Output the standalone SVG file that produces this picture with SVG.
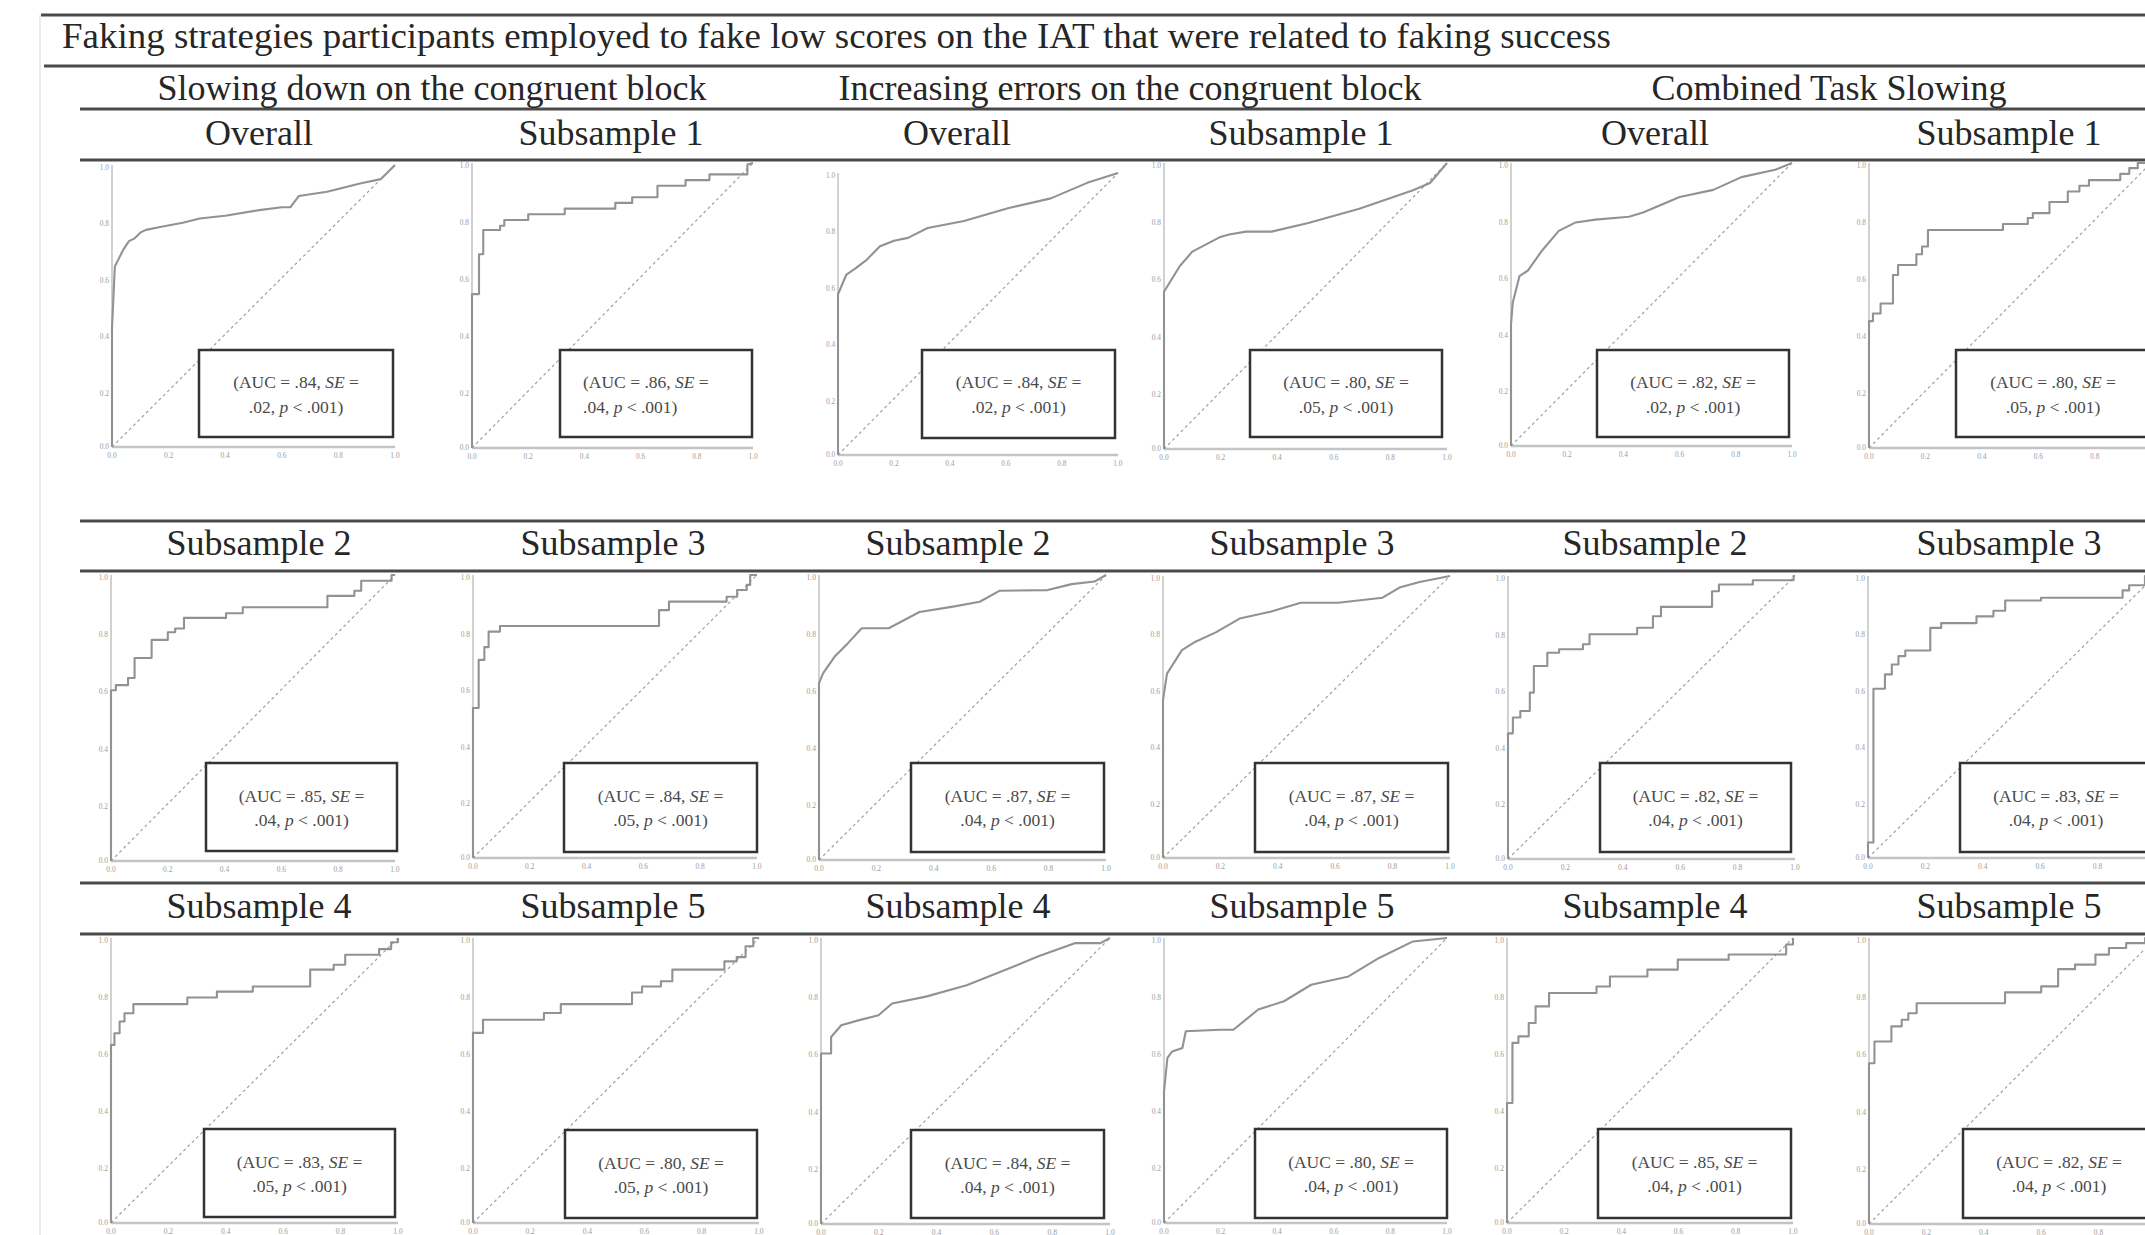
<svg xmlns="http://www.w3.org/2000/svg" xmlns:xlink="http://www.w3.org/1999/xlink" width="2145" height="1235" viewBox="0 0 2145 1235">
<style>
.hd{font-family:"Liberation Serif","Times New Roman",serif;font-size:36px;fill:#262626;text-anchor:middle}
.ttl{font-family:"Liberation Serif","Times New Roman",serif;font-size:36px;fill:#262626}
.rule{stroke:#4a4a4a;stroke-width:3}
.ax{stroke:#b8b8b8;stroke-width:1.3;fill:none}
.xax{stroke:#c4c4c4;stroke-width:2.4;fill:none}
.diag{stroke:#a0a0a0;stroke-width:1.2;stroke-dasharray:3 3;fill:none}
.roc{fill:none;stroke:#929292;stroke-width:2.1;vector-effect:non-scaling-stroke;stroke-linejoin:round}
.box{fill:#fff;stroke:#333;stroke-width:2.5}
.bt{font-family:"Liberation Serif","Times New Roman",serif;font-size:17.5px;fill:#4a4a4a;text-anchor:middle}
.bl{text-anchor:start}
.it{font-style:italic}
.tk{font-family:"Liberation Serif","Times New Roman",serif;font-size:7.5px;fill:#9c9c9c}
.tky{text-anchor:end}
.tkx{text-anchor:middle}
</style>
<defs>
<g id="tk">
<text class="tk tky" x="-3" y="5">1.0</text>
<text class="tk tky" x="-3" y="62">0.8</text>
<text class="tk tky" x="-3" y="119">0.6</text>
<text class="tk tky" x="-3" y="176">0.4</text>
<text class="tk tky" x="-3" y="233">0.2</text>
<text class="tk tky" x="-3" y="287">0.0</text>
<text class="tk tkx" x="0" y="296">0.0</text>
<text class="tk tkx" x="57" y="296">0.2</text>
<text class="tk tkx" x="114" y="296">0.4</text>
<text class="tk tkx" x="171" y="296">0.6</text>
<text class="tk tkx" x="228" y="296">0.8</text>
<text class="tk tkx" x="285" y="296">1.0</text>
</g>
</defs>
<rect width="2145" height="1235" fill="#fff"/>
<line x1="40" y1="15" x2="40" y2="1235" stroke="#e6e6e6" stroke-width="1.5"/>

<g id="table-rules">
<line class="rule" x1="41" y1="15" x2="2145" y2="15"/>
<line class="rule" x1="44" y1="66" x2="2145" y2="66"/>
<line class="rule" x1="80" y1="109" x2="2145" y2="109"/>
<line class="rule" x1="80" y1="160" x2="2145" y2="160"/>
<line class="rule" x1="80" y1="521" x2="2145" y2="521"/>
<line class="rule" x1="80" y1="571" x2="2145" y2="571"/>
<line class="rule" x1="80" y1="883" x2="2145" y2="883"/>
<line class="rule" x1="80" y1="934" x2="2145" y2="934"/>
</g>

<g id="headings">
<text class="ttl" x="62" y="48" textLength="1549" lengthAdjust="spacingAndGlyphs">Faking strategies participants employed to fake low scores on the IAT that were related to faking success</text>
<text class="hd" x="432" y="100">Slowing down on the congruent block</text>
<text class="hd" x="1130" y="100">Increasing errors on the congruent block</text>
<text class="hd" x="1829" y="100">Combined Task Slowing</text>
<text class="hd" x="259" y="145">Overall</text>
<text class="hd" x="611" y="145">Subsample 1</text>
<text class="hd" x="957" y="145">Overall</text>
<text class="hd" x="1301" y="145">Subsample 1</text>
<text class="hd" x="1655" y="145">Overall</text>
<text class="hd" x="2009" y="145">Subsample 1</text>
<text class="hd" x="259" y="555">Subsample 2</text>
<text class="hd" x="613" y="555">Subsample 3</text>
<text class="hd" x="958" y="555">Subsample 2</text>
<text class="hd" x="1302" y="555">Subsample 3</text>
<text class="hd" x="1655" y="555">Subsample 2</text>
<text class="hd" x="2009" y="555">Subsample 3</text>
<text class="hd" x="259" y="918">Subsample 4</text>
<text class="hd" x="613" y="918">Subsample 5</text>
<text class="hd" x="958" y="918">Subsample 4</text>
<text class="hd" x="1302" y="918">Subsample 5</text>
<text class="hd" x="1655" y="918">Subsample 4</text>
<text class="hd" x="2009" y="918">Subsample 5</text>
</g>

<!-- Row 1 -->
<g id="plot-slow-overall" transform="translate(112,165)">
<use href="#tk" transform="scale(0.993,0.99)"/>
<line class="ax" x1="0" y1="0" x2="0" y2="282"/><line class="xax" x1="0" y1="282" x2="283" y2="282"/>
<line class="diag" x1="0" y1="282" x2="283" y2="0"/>
<path class="roc" transform="scale(2.83,2.82)" d="M0,100 V58 L1,36 L2,34 L4,30 L6,27 L8,26 L10,24 L12,23 L17,22 L25,20.5 L31,19 L40,18 L52,16 L60,15 L63,15 L66,11 L76,9.5 L88,6.5 L95,5 L97,3 L100,0"/>
<rect class="box" x="87" y="185" width="194" height="87"/>
<text class="bt" x="184" y="223">(AUC = .84, <tspan class="it">SE</tspan> =</text>
<text class="bt" x="184" y="248">.02, <tspan class="it">p</tspan> &lt; .001)</text>
</g>
<g id="plot-slow-sub1" transform="translate(472,163)">
<use href="#tk" transform="scale(0.986,1)"/>
<line class="ax" x1="0" y1="0" x2="0" y2="285"/><line class="xax" x1="0" y1="285" x2="281" y2="285"/>
<line class="diag" x1="0" y1="285" x2="281" y2="0"/>
<path class="roc" transform="scale(2.81,2.85)" d="M0,100 V46 H2.5 V32 H4 V23.5 H10 V22 H11.5 V20 H20 V18 H33 V16 H51 V14 H57 V12 H66 V8 H76 V6 H84.5 V4 H98 V0.5 L100,0"/>
<rect class="box" x="88" y="187" width="192" height="87"/>
<text class="bt bl" x="111" y="225">(AUC = .86, <tspan class="it">SE</tspan> =</text>
<text class="bt bl" x="111" y="250">.04, <tspan class="it">p</tspan> &lt; .001)</text>
</g>
<g id="plot-err-overall" transform="translate(838,173)">
<use href="#tk" transform="scale(0.982,0.99)"/>
<line class="ax" x1="0" y1="0" x2="0" y2="282"/><line class="xax" x1="0" y1="282" x2="280" y2="282"/>
<line class="diag" x1="0" y1="282" x2="280" y2="0"/>
<path class="roc" transform="scale(2.80,2.82)" d="M0,100 V43 L3,36 L6,34 L10,31 L15,26 L20,24 L25,23 L32,19.5 L45,17 L61,12.4 L76,9 L89,3.5 L100,0"/>
<rect class="box" x="84" y="177" width="193" height="88"/>
<text class="bt" x="180.5" y="215">(AUC = .84, <tspan class="it">SE</tspan> =</text>
<text class="bt" x="180.5" y="240">.02, <tspan class="it">p</tspan> &lt; .001)</text>
</g>
<g id="plot-err-sub1" transform="translate(1164,163)">
<use href="#tk" transform="scale(0.993,1.003)"/>
<line class="ax" x1="0" y1="0" x2="0" y2="286"/><line class="xax" x1="0" y1="286" x2="283" y2="286"/>
<line class="diag" x1="0" y1="286" x2="283" y2="0"/>
<path class="roc" transform="scale(2.83,2.86)" d="M0,100 V45 L2.5,41 L5.6,36 L10,31 L19.6,26 L23,25 L29,24 L38,24 L51,21 L69,16 L88,9.5 L94,7 L100,0"/>
<rect class="box" x="86" y="187" width="192" height="87"/>
<text class="bt" x="182" y="225">(AUC = .80, <tspan class="it">SE</tspan> =</text>
<text class="bt" x="182" y="250">.05, <tspan class="it">p</tspan> &lt; .001)</text>
</g>
<g id="plot-comb-overall" transform="translate(1511,163)">
<use href="#tk" transform="scale(0.986,0.993)"/>
<line class="ax" x1="0" y1="0" x2="0" y2="283"/><line class="xax" x1="0" y1="283" x2="281" y2="283"/>
<line class="diag" x1="0" y1="283" x2="281" y2="0"/>
<path class="roc" transform="scale(2.81,2.83)" d="M0,100 V57 L0.6,49.5 L3,40 L6,38 L11,31 L17,24 L23,21 L30,20 L42,19 L47,17.5 L60,12 L72,9.5 L82,5 L94,2.4 L100,0"/>
<rect class="box" x="86" y="187" width="192" height="87"/>
<text class="bt" x="182" y="225">(AUC = .82, <tspan class="it">SE</tspan> =</text>
<text class="bt" x="182" y="250">.02, <tspan class="it">p</tspan> &lt; .001)</text>
</g>
<g id="plot-comb-sub1" transform="translate(1869,163)">
<use href="#tk" transform="scale(0.99,1)"/>
<line class="ax" x1="0" y1="0" x2="0" y2="285"/><line class="xax" x1="0" y1="285" x2="282" y2="285"/>
<line class="diag" x1="0" y1="285" x2="282" y2="0"/>
<path class="roc" transform="scale(2.82,2.85)" d="M0,100 V55.5 H1.4 V52.8 H4.1 V49.3 H8.5 V39.3 H10.3 V35.8 H16.8 V32 H18.8 V29.3 H20.9 V23.5 H47.5 V21.4 H56.3 V19.3 H58.1 V17.6 H64 V13.7 H70.5 V10 H74.6 V8 H78 V6 H89.1 V3.8 H92.3 V1.8 H95.3 V0 H100"/>
<rect class="box" x="87" y="187" width="194" height="87"/>
<text class="bt" x="184" y="225">(AUC = .80, <tspan class="it">SE</tspan> =</text>
<text class="bt" x="184" y="250">.05, <tspan class="it">p</tspan> &lt; .001)</text>
</g>

<!-- Row 2 -->
<g id="plot-slow-sub2" transform="translate(111,575)">
<use href="#tk" transform="scale(0.996,1.003)"/>
<line class="ax" x1="0" y1="0" x2="0" y2="286"/><line class="xax" x1="0" y1="286" x2="284" y2="286"/>
<line class="diag" x1="0" y1="286" x2="284" y2="0"/>
<path class="roc" transform="scale(2.84,2.86)" d="M0,100 V40.3 H1.7 V38.5 H6 V36 H8.3 V29 H14.3 V22.7 H20 V20 H22.6 V18.7 H25.7 V15 H40.5 V13.4 H46.4 V11.3 H76.2 V7.3 H85.7 V5.5 H88.1 V2 H98.8 V0 H100"/>
<rect class="box" x="95" y="188" width="191" height="88"/>
<text class="bt" x="190.5" y="227">(AUC = .85, <tspan class="it">SE</tspan> =</text>
<text class="bt" x="190.5" y="251">.04, <tspan class="it">p</tspan> &lt; .001)</text>
</g>
<g id="plot-slow-sub3" transform="translate(473,575)">
<use href="#tk" transform="scale(0.996,0.993)"/>
<line class="ax" x1="0" y1="0" x2="0" y2="283"/><line class="xax" x1="0" y1="283" x2="284" y2="283"/>
<line class="diag" x1="0" y1="283" x2="284" y2="0"/>
<path class="roc" transform="scale(2.84,2.83)" d="M0,100 V47 H2 V30 H4 V25.5 H5.5 V20 H9.5 V18 H65.5 V12.4 H69 V9.4 H89.3 V7.7 H93 V5.3 H96.4 V3.5 H97.6 V0 H100"/>
<rect class="box" x="91" y="188" width="193" height="89"/>
<text class="bt" x="187.5" y="227">(AUC = .84, <tspan class="it">SE</tspan> =</text>
<text class="bt" x="187.5" y="251">.05, <tspan class="it">p</tspan> &lt; .001)</text>
</g>
<g id="plot-err-sub2" transform="translate(819,575)">
<use href="#tk" transform="scale(1.007,1)"/>
<line class="ax" x1="0" y1="0" x2="0" y2="285"/><line class="xax" x1="0" y1="285" x2="287" y2="285"/>
<line class="diag" x1="0" y1="285" x2="287" y2="0"/>
<path class="roc" transform="scale(2.87,2.85)" d="M0,100 V38 L1.4,34.5 L5.4,28.7 L10,24 L14.9,18.7 L24.3,18.7 L35,13 L46.7,11.1 L56,9.4 L63,5.5 L79.7,5.3 L88,3.2 L96,2.3 L100,0"/>
<rect class="box" x="92" y="188" width="193" height="89"/>
<text class="bt" x="188.5" y="227">(AUC = .87, <tspan class="it">SE</tspan> =</text>
<text class="bt" x="188.5" y="251">.04, <tspan class="it">p</tspan> &lt; .001)</text>
</g>
<g id="plot-err-sub3" transform="translate(1163,576)">
<use href="#tk" transform="scale(1.007,0.99)"/>
<line class="ax" x1="0" y1="0" x2="0" y2="282"/><line class="xax" x1="0" y1="282" x2="287" y2="282"/>
<line class="diag" x1="0" y1="282" x2="287" y2="0"/>
<path class="roc" transform="scale(2.87,2.82)" d="M0,100 V44 L1.4,34.6 L6.6,26.3 L11.3,23.3 L18.4,20 L26.7,15.1 L37.4,12.7 L48,9.5 L61,9.5 L76.5,7.7 L82.4,4.1 L89.4,2.1 L100,0"/>
<rect class="box" x="92" y="187" width="193" height="89"/>
<text class="bt" x="188.5" y="226">(AUC = .87, <tspan class="it">SE</tspan> =</text>
<text class="bt" x="188.5" y="250">.04, <tspan class="it">p</tspan> &lt; .001)</text>
</g>
<g id="plot-comb-sub2" transform="translate(1508,576)">
<use href="#tk" transform="scale(1.007,0.993)"/>
<line class="ax" x1="0" y1="0" x2="0" y2="283"/><line class="xax" x1="0" y1="283" x2="287" y2="283"/>
<line class="diag" x1="0" y1="283" x2="287" y2="0"/>
<path class="roc" transform="scale(2.87,2.83)" d="M0,100 V55.6 H1.7 V50 H4.3 V47.7 H7.6 V41.2 H9 V31.8 H13.7 V27.1 H17.8 V25.9 H26.1 V24.1 H28.4 V20.6 H45 V18.3 H50.5 V14.2 H53.3 V10.9 H71.1 V5.4 H73.5 V3 H85.3 V1.5 H99.5 V0 H100"/>
<rect class="box" x="92" y="187" width="191" height="89"/>
<text class="bt" x="187.5" y="226">(AUC = .82, <tspan class="it">SE</tspan> =</text>
<text class="bt" x="187.5" y="250">.04, <tspan class="it">p</tspan> &lt; .001)</text>
</g>
<g id="plot-comb-sub3" transform="translate(1868,576)">
<use href="#tk" transform="scale(1.007,0.99)"/>
<line class="ax" x1="0" y1="0" x2="0" y2="282"/><line class="xax" x1="0" y1="282" x2="287" y2="282"/>
<line class="diag" x1="0" y1="282" x2="287" y2="0"/>
<path class="roc" transform="scale(2.87,2.82)" d="M0,100 V94.5 H1.9 V40 H5.9 V34.9 H8.3 V31.4 H10.6 V28.4 H13 V26.4 H21.7 V18.4 H25.5 V16.7 H37.8 V14.3 H43.7 V12.3 H47.8 V8.7 H60.3 V7.7 H88.7 V5.1 H91 V3.3 H96.5 V0 H100"/>
<rect class="box" x="92" y="187" width="192" height="89"/>
<text class="bt" x="188" y="226">(AUC = .83, <tspan class="it">SE</tspan> =</text>
<text class="bt" x="188" y="250">.04, <tspan class="it">p</tspan> &lt; .001)</text>
</g>

<!-- Row 3 -->
<g id="plot-slow-sub4" transform="translate(111,938)">
<use href="#tk" transform="scale(1.007,1)"/>
<line class="ax" x1="0" y1="0" x2="0" y2="285"/><line class="xax" x1="0" y1="285" x2="287" y2="285"/>
<line class="diag" x1="0" y1="285" x2="287" y2="0"/>
<path class="roc" transform="scale(2.87,2.85)" d="M0,100 V37.5 H1.2 V33.4 H3 V29.3 H4.7 V26.4 H7.8 V23.2 H26.6 V20.9 H36.9 V18.8 H49.4 V17 H69.4 V11.1 H77.6 V9.4 H81.6 V5.9 H93.4 V3.9 H97.6 V1.5 H100 V0"/>
<rect class="box" x="93" y="191" width="191" height="88"/>
<text class="bt" x="188.5" y="230">(AUC = .83, <tspan class="it">SE</tspan> =</text>
<text class="bt" x="188.5" y="254">.05, <tspan class="it">p</tspan> &lt; .001)</text>
</g>
<g id="plot-slow-sub5" transform="translate(473,938)">
<use href="#tk" transform="scale(1.003,1)"/>
<line class="ax" x1="0" y1="0" x2="0" y2="285"/><line class="xax" x1="0" y1="285" x2="286" y2="285"/>
<line class="diag" x1="0" y1="285" x2="286" y2="0"/>
<path class="roc" transform="scale(2.86,2.85)" d="M0,100 V33.3 H3.5 V28.7 H24.8 V26.3 H30.7 V23.2 H55.6 V19.1 H59.1 V17 H65.7 V15.2 H69.7 V11.1 H87.9 V8.2 H92.2 V6.7 H95.3 V2.9 H98 V0 H100"/>
<rect class="box" x="92" y="192" width="192" height="88"/>
<text class="bt" x="188" y="231">(AUC = .80, <tspan class="it">SE</tspan> =</text>
<text class="bt" x="188" y="255">.05, <tspan class="it">p</tspan> &lt; .001)</text>
</g>
<g id="plot-err-sub4" transform="translate(821,938)">
<use href="#tk" transform="scale(1.014,1.003)"/>
<line class="ax" x1="0" y1="0" x2="0" y2="286"/><line class="xax" x1="0" y1="286" x2="289" y2="286"/>
<line class="diag" x1="0" y1="286" x2="289" y2="0"/>
<path class="roc" transform="scale(2.89,2.86)" d="M0,100 V40.4 H3.5 V34.6 L7,30.5 L12.9,28.8 L19.9,27 L24.6,22.9 L36.3,20.5 L50.4,16.5 L66.7,10 L75,6.5 L87.8,1.8 L96.7,1.8 L100,0"/>
<rect class="box" x="90" y="192" width="193" height="88"/>
<text class="bt" x="186.5" y="231">(AUC = .84, <tspan class="it">SE</tspan> =</text>
<text class="bt" x="186.5" y="255">.04, <tspan class="it">p</tspan> &lt; .001)</text>
</g>
<g id="plot-err-sub5" transform="translate(1164,938)">
<use href="#tk" transform="scale(0.993,1)"/>
<line class="ax" x1="0" y1="0" x2="0" y2="285"/><line class="xax" x1="0" y1="285" x2="283" y2="285"/>
<line class="diag" x1="0" y1="285" x2="283" y2="0"/>
<path class="roc" transform="scale(2.83,2.85)" d="M0,100 V54 L1.2,42.1 L2.9,39.8 L6.5,38.6 L7.7,32.7 L19.7,32.2 L24.5,32.2 L33.3,25.1 L42.4,22.2 L52,16.4 L65.2,13.5 L76,7 L88,1.2 L100,0"/>
<rect class="box" x="91" y="191" width="192" height="89"/>
<text class="bt" x="187" y="230">(AUC = .80, <tspan class="it">SE</tspan> =</text>
<text class="bt" x="187" y="254">.04, <tspan class="it">p</tspan> &lt; .001)</text>
</g>
<g id="plot-comb-sub4" transform="translate(1507,938)">
<use href="#tk" transform="scale(1.003,1)"/>
<line class="ax" x1="0" y1="0" x2="0" y2="285"/><line class="xax" x1="0" y1="285" x2="286" y2="285"/>
<line class="diag" x1="0" y1="285" x2="286" y2="0"/>
<path class="roc" transform="scale(2.86,2.85)" d="M0,100 V57.9 H1.9 V36.8 H4 V34.5 H7.6 V29.8 H10 V24 H14.7 V19.3 H31.3 V17 H36 V13.5 H49.1 V11.1 H59.7 V7.6 H77.5 V5.8 H97.6 V2.3 H100 V0"/>
<rect class="box" x="91" y="191" width="193" height="89"/>
<text class="bt" x="187.5" y="230">(AUC = .85, <tspan class="it">SE</tspan> =</text>
<text class="bt" x="187.5" y="254">.04, <tspan class="it">p</tspan> &lt; .001)</text>
</g>
<g id="plot-comb-sub5" transform="translate(1869,938)">
<use href="#tk" transform="scale(1.007,1.003)"/>
<line class="ax" x1="0" y1="0" x2="0" y2="286"/><line class="xax" x1="0" y1="286" x2="287" y2="286"/>
<line class="diag" x1="0" y1="286" x2="287" y2="0"/>
<path class="roc" transform="scale(2.87,2.86)" d="M0,100 V43.8 H1.9 V36.2 H7.8 V30.9 H11.4 V28.6 H13.7 V26.3 H16.6 V22.8 H47.4 V19 H60 V16.9 H65.9 V10.9 H71.8 V9.3 H78.9 V5.8 H83.6 V3.5 H89.6 V1.8 H96.2 V0 H100"/>
<rect class="box" x="94" y="191" width="192" height="89"/>
<text class="bt" x="190" y="230">(AUC = .82, <tspan class="it">SE</tspan> =</text>
<text class="bt" x="190" y="254">.04, <tspan class="it">p</tspan> &lt; .001)</text>
</g>
</svg>
